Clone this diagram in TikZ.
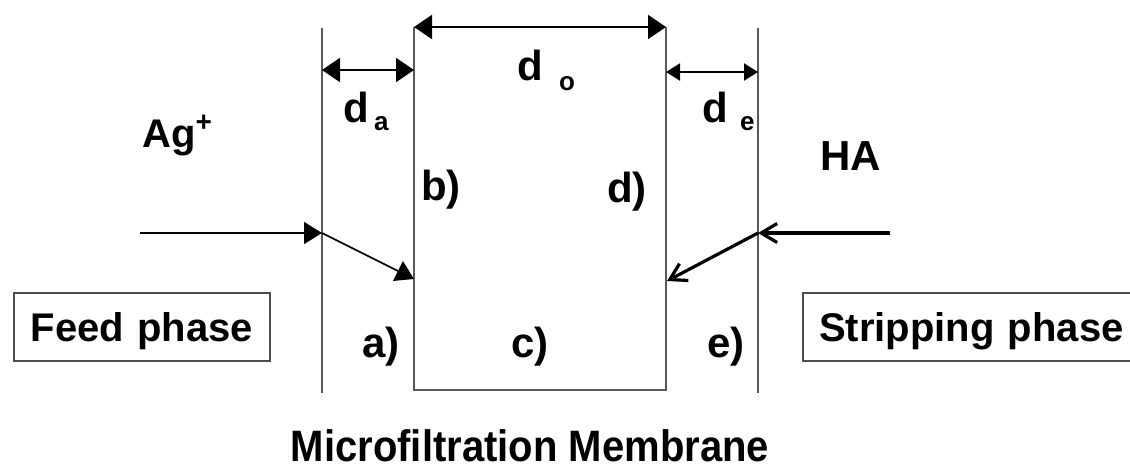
\documentclass[tikz,border=0pt]{standalone}
\usepackage{fontspec}
\setmainfont{Liberation Sans}
\usetikzlibrary{positioning,arrows.meta}

\begin{document}
\begin{tikzpicture}[x=0.5pt, y=-0.5pt,
  wall/.style={draw=black!65, line width=1pt},
  phase/.style={draw=black!70, line width=1pt, anchor=west, minimum height=34pt, inner xsep=8pt,
    text height=14.3pt, text depth=0pt, font=\fontsize{20}{24}\selectfont\bfseries},
  lab/.style={inner sep=0pt, font=\fontsize{21}{25}\selectfont\bfseries},
  dim/.style={{Triangle[length=9pt,width=12pt]}-{Triangle[length=9pt,width=12pt]}, line width=1pt},
  flow/.style={-{Triangle[length=9pt,width=11pt]}, line width=0.8pt},
  back/.style={-{Straight Barb[length=8pt,width=9.5pt]}, line width=1.6pt}
]
\useasboundingbox (0,0) rectangle (1130,468);

% walls of the liquid films
\coordinate (feedtop) at (322,28);
\coordinate (feedbot) at (322,393);
\coordinate (striptop) at (758,28);
\coordinate (stripbot) at (758,393);
\draw[wall] (feedtop) -- (feedbot);
\draw[wall] (striptop) -- (stripbot);

% membrane
\coordinate (memtl) at (414,27);
\coordinate (membl) at (414,390);
\coordinate (membr) at (666,390);
\coordinate (memtr) at (666,27);
\draw[wall] (memtl) -- (membl) -- (membr) -- (memtr);

% thicknesses
\coordinate (dal) at (322,70);
\coordinate (dar) at (414,70);
\coordinate (del) at (666,72);
\coordinate (der) at (758,72);
\draw[dim] (memtl) -- (memtr);
\draw[dim] (dal) -- (dar);
\draw[dim, {Triangle[length=7pt,width=8.5pt]}-{Triangle[length=7pt,width=8.5pt]}] (del) -- (der);
\node[lab, anchor=base west] (do) at (517,80) {d\hspace{8pt}\raisebox{-5pt}{\fontsize{13}{15}\selectfont o}};
\node[lab, anchor=base west] (da) at (343,122) {d\hspace{2.5pt}\raisebox{-4pt}{\fontsize{13}{15}\selectfont a}};
\node[lab, anchor=base west] (de) at (702,122) {d\hspace{6pt}\raisebox{-4pt}{\fontsize{13}{15}\selectfont e}};

% species
\node[lab, anchor=base west, font=\fontsize{20}{24}\selectfont\bfseries] (ag) at (142,147) {Ag\textsuperscript{+}};
\node[lab, anchor=base west] (ha) at (820,170) {HA};

% fluxes
\coordinate (agin) at (140,233);
\coordinate (agwall) at (322,233);
\coordinate (agmem) at (414,279);
\draw[flow] (agin) -- (agwall);
\draw[flow] (agwall) -- (agmem);
\coordinate (hain) at (890,233);
\coordinate (hawall) at (758,233);
\coordinate (hamem) at (667,281);
\draw[back] (hain) -- (hawall);
\draw[back] (hawall) -- (hamem);

% interfaces and zones
\node[lab] (b) at (441,190) {b)};
\node[lab] (d) at (627,192) {d)};
\node[lab] (a) at (381,347) {a)};
\node[lab] (c) at (530,347) {c)};
\node[lab] (e) at (726,347) {e)};

% phases
\node[phase, text width=112pt, align=center] (feed) at (13,327) {Feed phase};
\node[phase, text width=170pt, align=left] (strip) at (802,327) {Stripping phase};

\node[lab, anchor=base, font=\fontsize{22}{26}\selectfont\bfseries] (mem) at (530,461)
  {\scalebox{0.91}[1]{Microfiltration Membrane}};
\end{tikzpicture}
\end{document}
